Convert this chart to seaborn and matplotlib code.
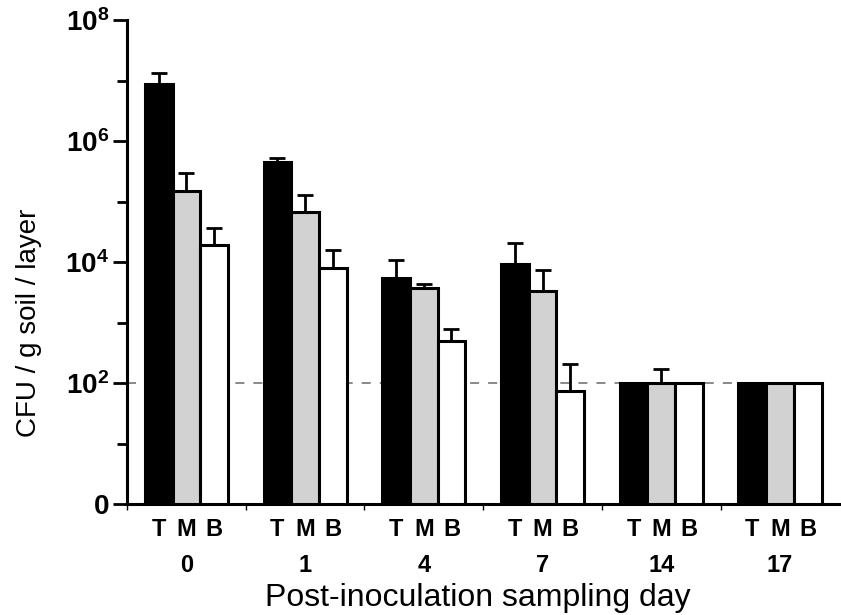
import numpy as np
import pandas as pd
import matplotlib
matplotlib.use("Agg")
import matplotlib.pyplot as plt
import seaborn as sns

# Dados (CFU / g solo / camada)
days = ["0", "1", "4", "7", "14", "17"]
layers = ["T", "M", "B"]
top_vals = [9.0e6, 4.5e5, 5.5e3, 9.5e3, 100, 100]
mid_vals = [1.5e5, 6.8e4, 3.7e3, 3.4e3, 100, 100]
bot_vals = [1.9e4, 8.0e3, 500, 75, 100, 100]
top_err = [1.35e7, 5.2e5, 1.1e4, 2.1e4, 0, 0]
mid_err = [3.0e5, 1.3e5, 4.4e3, 7.5e3, 170, 0]
bot_err = [3.7e4, 1.6e4, 780, 210, 0, 0]

sns.set_style("ticks", {"axes.edgecolor": "black", "text.color": "black",
                        "axes.labelcolor": "black", "xtick.color": "black",
                        "ytick.color": "black"})
plt.rcParams["font.family"] = ["Liberation Sans", "DejaVu Sans"]
plt.rcParams["mathtext.fontset"] = "custom"
plt.rcParams["mathtext.rm"] = "Liberation Sans"
plt.rcParams["mathtext.bf"] = "Liberation Sans:bold"

df = pd.DataFrame({
    "dia": days * 3,
    "camada": ["T"] * 6 + ["M"] * 6 + ["B"] * 6,
    "cfu": top_vals + mid_vals + bot_vals,
})
err = top_err + mid_err + bot_err

fig = plt.figure(figsize=(8.41, 6.15), dpi=100)
ax = fig.add_axes([0.151, 0.18, 0.847, 0.787])
ax.set_yscale("log")

sns.barplot(data=df, x="dia", y="cfu", hue="camada", hue_order=layers,
            palette=["black", "#d2d2d2", "white"], width=0.7,
            edgecolor="black", linewidth=2.2, legend=False, ax=ax, zorder=2)

# barras de erro (apenas para cima)
for p, val, e in zip(ax.patches, df["cfu"], err):
    if e > 0:
        xc = p.get_x() + p.get_width() / 2
        ax.errorbar(xc, val, yerr=[[0], [e - val]], fmt="none", ecolor="black",
                    elinewidth=2, capsize=6, capthick=2, zorder=3)

# limite de detecção
ax.axhline(100, color="gray", linestyle=(0, (5, 5)), linewidth=1.3, zorder=1,
           xmax=0.87)

ax.set_ylim(1, 1e8)
ax.set_xlim(-0.5, 5.5)
ax.set_yticks([1, 1e2, 1e4, 1e6, 1e8])
ax.set_yticklabels(["0", r"$\mathbf{10^2}$", r"$\mathbf{10^4}$",
                    r"$\mathbf{10^6}$", r"$\mathbf{10^8}$"],
                   fontsize=20, fontweight="bold")
ax.set_yticks([10, 1e3, 1e5, 1e7], minor=True)
ax.yaxis.set_minor_formatter(plt.NullFormatter())
ax.tick_params(axis="y", which="major", length=10, width=2, pad=3)
ax.tick_params(axis="y", which="minor", length=7, width=2)

# rótulos T M B
bar_x = [p.get_x() + p.get_width() / 2 for p in ax.patches[:18]]
ax.set_xticks(bar_x)
ax.set_xticklabels(["T"] * 6 + ["M"] * 6 + ["B"] * 6, fontsize=17,
                   fontweight="bold")
ax.tick_params(axis="x", which="major", length=0, pad=10)
ax.set_xticks(np.arange(0, 6) - 0.5, minor=True)
ax.tick_params(axis="x", which="minor", length=4, width=1)

trans = ax.get_xaxis_transform()
for i, d in enumerate(days):
    ax.text(i, -0.103, d, transform=trans, ha="center", va="top",
            fontsize=17, fontweight="bold")

ax.set_xlabel("Post-inoculation sampling day", fontsize=23)
ax.xaxis.set_label_coords(0.493, -0.163)
ax.set_ylabel("CFU / g soil / layer", fontsize=20)
ax.yaxis.set_label_coords(-0.119, 0.374)

for s in ["top", "right"]:
    ax.spines[s].set_visible(False)
ax.spines["left"].set_linewidth(2.2)
ax.spines["bottom"].set_linewidth(2.2)

fig.savefig("out.png", dpi=100)
